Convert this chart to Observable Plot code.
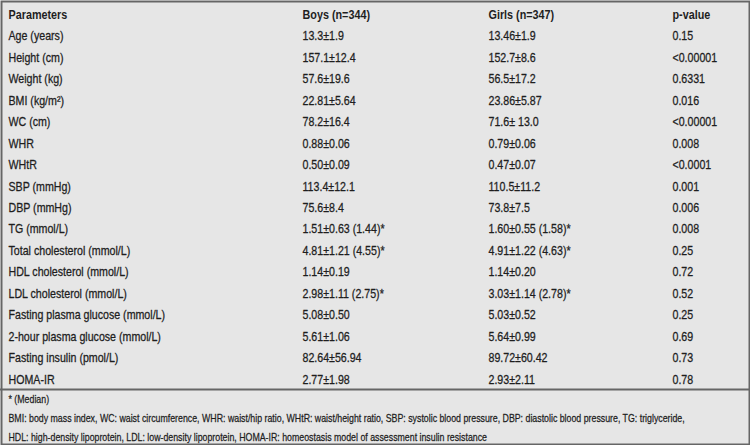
<!DOCTYPE html>
<html>
<head>
<meta charset="utf-8">
<script src="https://cdn.jsdelivr.net/npm/d3@7"></script>
<script src="https://cdn.jsdelivr.net/npm/@observablehq/plot@0.6"></script>
<style>
  html, body { margin: 0; padding: 0; background: #ffffff; }
  svg { display: block; }
</style>
</head>
<body>
<script>
const headers = ["Parameters", "Boys (n=344)", "Girls (n=347)", "p-value"];

const parameters = [
  "Age (years)", "Height (cm)", "Weight (kg)", "BMI (kg/m²)", "WC (cm)", "WHR", "WHtR",
  "SBP (mmHg)", "DBP (mmHg)", "TG (mmol/L)", "Total cholesterol (mmol/L)",
  "HDL cholesterol (mmol/L)", "LDL cholesterol (mmol/L)", "Fasting plasma glucose (mmol/L)",
  "2-hour plasma glucose (mmol/L)", "Fasting insulin (pmol/L)", "HOMA-IR"
];

const boys = [
  "13.3±1.9", "157.1±12.4", "57.6±19.6", "22.81±5.64", "78.2±16.4", "0.88±0.06", "0.50±0.09",
  "113.4±12.1", "75.6±8.4", "1.51±0.63 (1.44)*", "4.81±1.21 (4.55)*", "1.14±0.19",
  "2.98±1.11 (2.75)*", "5.08±0.50", "5.61±1.06", "82.64±56.94", "2.77±1.98"
];

const girls = [
  "13.46±1.9", "152.7±8.6", "56.5±17.2", "23.86±5.87", "71.6± 13.0", "0.79±0.06", "0.47±0.07",
  "110.5±11.2", "73.8±7.5", "1.60±0.55 (1.58)*", "4.91±1.22 (4.63)*", "1.14±0.20",
  "3.03±1.14 (2.78)*", "5.03±0.52", "5.64±0.99", "89.72±60.42", "2.93±2.11"
];

const pValues = [
  "0.15", "<0.00001", "0.6331", "0.016", "<0.00001", "0.008", "<0.0001",
  "0.001", "0.006", "0.008", "0.25", "0.72", "0.52", "0.25", "0.69", "0.73", "0.78"
];

const footnotes = [
  "* (Median)",
  "BMI: body mass index, WC: waist circumference, WHR: waist/hip ratio, WHtR: waist/height ratio, SBP: systolic blood pressure, DBP: diastolic blood pressure, TG: triglyceride,",
  "HDL: high-density lipoprotein, LDL: low-density lipoprotein, HOMA-IR: homeostasis model of assessment insulin resistance"
];

const cells = [parameters, boys, girls, pValues].flatMap((col, c) =>
  col.map((t, r) => ({c, r, t}))
);
const headerCells = headers.map((t, c) => ({c, r: -1, t}));
const noteCells = footnotes.map((t, i) => ({c: 0, r: parameters.length + i, t}));

const font = '"Liberation Sans", Arial, sans-serif';
const squeeze = 0.8; // emulate a condensed face
const ink = "#1e1e1e";

const chart = Plot.plot({
  width: 750,
  height: 445,
  margin: 0,
  x: {type: "linear", domain: [0, 1, 2, 3], range: [8, 302, 488, 672], axis: null},
  y: {type: "linear", domain: [-1, 0, 16, 17, 19], range: [14, 35.5, 379, 399, 436.5], axis: null},
  style: {fontFamily: font, background: "#ffffff", color: ink},
  marks: [
    Plot.frame({fill: "#e6e6e6", stroke: "#666666", strokeWidth: 2, inset: 1}),
    Plot.ruleY([16.5], {stroke: "#666666", strokeWidth: 2}),
    Plot.text(headerCells, {x: "c", y: "r", text: "t", textAnchor: "start", fontWeight: "bold", fontSize: 13.5, fill: ink}),
    Plot.text(cells, {x: "c", y: "r", text: "t", textAnchor: "start", fontSize: 13.3, fill: ink, stroke: ink, strokeWidth: 0.3}),
    Plot.text(noteCells, {x: "c", y: "r", text: "t", textAnchor: "start", fontSize: 11, fill: ink, stroke: ink, strokeWidth: 0.25})
  ]
});

// horizontally condense every text around its own anchor point
d3.select(chart).selectAll("text").each(function() {
  const tr = this.getAttribute("transform");
  if (tr && tr.includes("translate")) {
    this.setAttribute("transform", tr + ` scale(${squeeze},1)`);
  } else {
    const x = +this.getAttribute("x") || 0;
    const y = +this.getAttribute("y") || 0;
    this.removeAttribute("x");
    this.removeAttribute("y");
    this.setAttribute("transform", `translate(${x},${y}) scale(${squeeze},1)` + (tr ? " " + tr : ""));
  }
});

document.body.appendChild(chart);
</script>
</body>
</html>
